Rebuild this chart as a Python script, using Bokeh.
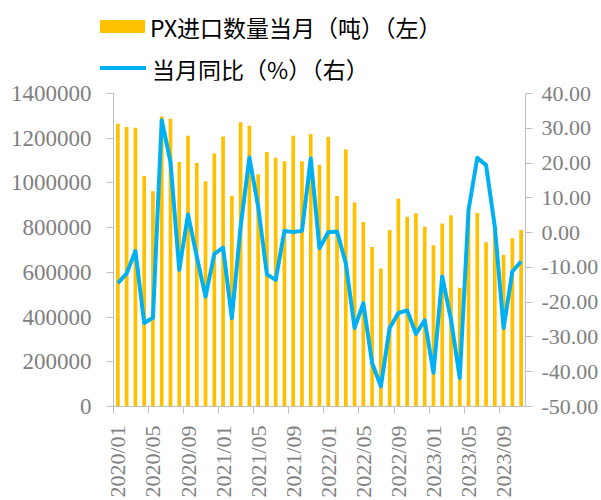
import math
from bokeh.plotting import figure
from bokeh.layouts import column
from bokeh.models import (Range1d, LinearAxis, FixedTicker, Div,
                          ColumnDataSource, NumeralTickFormatter)
from bokeh.embed import file_html
from bokeh.resources import INLINE

# ---- data ----
volume = [1265000, 1250000, 1247000, 1031000, 963000, 1297000, 1287000, 1094000, 1211000, 1089000,
          1008000, 1132000, 1208000, 942000, 1271000, 1256000, 1039000, 1138000, 1113000, 1097000,
          1211000, 1097000, 1219000, 1080000, 1207000, 942000, 1150000, 912000, 825000, 713000,
          617000, 789000, 930000, 849000, 864000, 804000, 721000, 819000, 855000, 531000,
          870000, 865000, 735000, 790000, 678000, 753000, 789000]
yoy = [-14.5, -11.7, -5.3, -26.0, -24.5, 32.3, 20.3, -10.7, 5.2, -6.9,
       -18.4, -6.1, -4.3, -24.6, 1.7, 21.6, 7.5, -12.0, -13.6, 0.5,
       0.2, 0.5, 21.3, -4.5, 0.1, 0.3, -8.8, -27.4, -20.3, -37.5,
       -44.2, -27.4, -23.1, -22.4, -29.1, -25.2, -40.3, -12.6, -25.0, -41.8,
       6.5, 21.5, 19.4, 1.7, -27.4, -11.2, -8.3]
tick_labels = ["2020/01", "2020/05", "2020/09", "2021/01", "2021/05", "2021/09",
               "2022/01", "2022/05", "2022/09", "2023/01", "2023/05", "2023/09"]
left_ticks = [0, 200000, 400000, 600000, 800000, 1000000, 1200000, 1400000]
right_ticks = [-50, -40, -30, -20, -10, 0, 10, 20, 30, 40]
label_bar = "PX进口数量当月（吨）（左）"
label_line = "当月同比（%）（右）"

n = len(volume)
idx = list(range(n))
src = ColumnDataSource(dict(x=idx, vol=volume, yoy=yoy))

GOLD = "#FFC000"
BLUE = "#00B0F0"
AX = "#BFBFBF"
LAB = "#808080"
SERIF = "Liberation Serif"
CJK = "Noto Sans CJK SC"

# ---- legend strip (HTML) ----
legend_html = f"""
<div style="position:relative;width:601px;height:80px;font-family:'{CJK}';font-size:23px;color:#000;">
  <span style="position:absolute;left:100px;top:20px;width:45px;height:13px;background:{GOLD};"></span>
  <span style="position:absolute;left:150px;top:16px;line-height:22px;white-space:nowrap;">{label_bar}</span>
  <span style="position:absolute;left:100px;top:66px;width:46px;height:4px;background:{BLUE};"></span>
  <span style="position:absolute;left:152px;top:58px;line-height:22px;white-space:nowrap;">{label_line}</span>
</div>
"""
lg = Div(text=legend_html, width=601, height=80, margin=(0, 0, 0, 0))

# ---- main chart ----
p = figure(width=601, height=420, output_backend="svg", toolbar_location=None,
           x_range=Range1d(-0.5, n - 0.5), y_range=Range1d(0, 1400000),
           min_border_left=113, min_border_top=13, min_border_bottom=0, min_border_right=0)
p.extra_y_ranges = {"pct": Range1d(-50, 40)}
p.outline_line_color = None
p.grid.visible = False
p.background_fill_color = "white"

p.vbar(x="x", top="vol", width=0.42, source=src, fill_color=GOLD, line_color=None)
p.line(x="x", y="yoy", source=src, y_range_name="pct", line_color=BLUE,
       line_width=4, line_join="round")

# x axis
xa = p.xaxis[0]
major = list(range(0, n, 4))
xa.ticker = FixedTicker(ticks=major, minor_ticks=[m - 0.5 for m in major])
xa.major_label_overrides = {m: lab for m, lab in zip(major, tick_labels)}
xa.major_label_orientation = math.pi / 2
xa.major_tick_out = 0
xa.major_tick_in = 0
xa.minor_tick_out = 7
xa.minor_tick_in = 0
xa.minor_tick_line_color = AX
xa.axis_line_color = AX
xa.major_label_standoff = 12
xa.major_label_text_font = SERIF
xa.major_label_text_font_size = "22px"
xa.major_label_text_color = LAB

# left axis
ya = p.yaxis[0]
ya.ticker = FixedTicker(ticks=left_ticks)
ya.formatter = NumeralTickFormatter(format="0")
ya.major_tick_out = 7
ya.major_tick_in = 0
ya.minor_tick_line_color = None
ya.axis_line_color = AX
ya.major_tick_line_color = AX
ya.major_label_standoff = 15
ya.major_label_text_font = SERIF
ya.major_label_text_font_size = "23px"
ya.major_label_text_color = LAB

# right axis
ra = LinearAxis(y_range_name="pct", ticker=FixedTicker(ticks=right_ticks),
                formatter=NumeralTickFormatter(format="0.00"))
ra.major_tick_out = 7
ra.major_tick_in = 0
ra.minor_tick_line_color = None
ra.axis_line_color = AX
ra.major_tick_line_color = AX
ra.major_label_standoff = 9
ra.major_label_text_font = SERIF
ra.major_label_text_font_size = "22px"
ra.major_label_text_color = LAB
p.add_layout(ra, "right")

layout = column(lg, p, spacing=0)
open("out.html", "w").write(file_html(layout, INLINE))
